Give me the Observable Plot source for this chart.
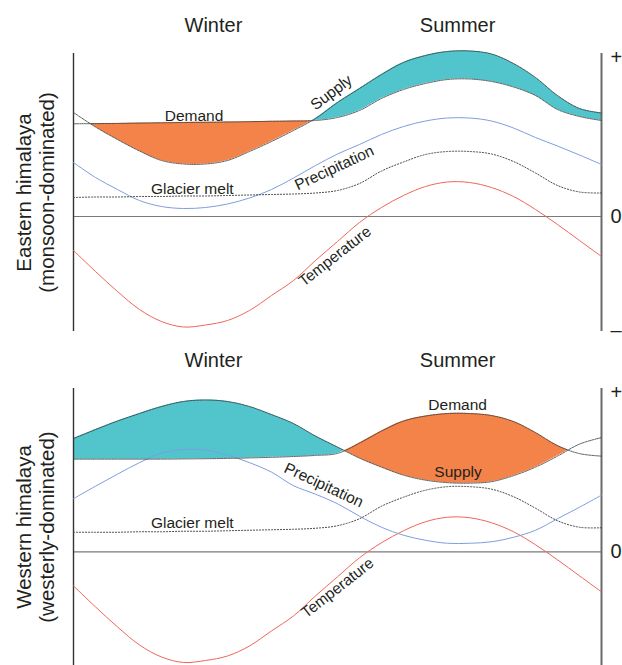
<!DOCTYPE html>
<html><head><meta charset="utf-8">
<script src="https://cdn.jsdelivr.net/npm/d3@7"></script>
<script src="https://cdn.jsdelivr.net/npm/@observablehq/plot@0.6"></script>
<style>
body{margin:0;background:#fff;}
#chart svg{display:block;}
</style>
</head><body><div id="chart"></div>
<script>
// x: months through the year (0..12), y: relative anomaly units (0 = zero line)
const months = [0,0.5,1,1.5,2,2.5,3,3.5,4,4.5,5,5.5,6,6.5,7,7.5,8,8.5,9,9.5,10,10.5,11,11.5,12];

// Eastern himalaya (monsoon-dominated)
const eastTemperature = [-3.4,-5.5,-7.5,-9.3,-10.5,-11.05,-10.85,-10.4,-9.4,-7.9,-6.4,-4.4,-2.5,-0.6,0.9,2.1,3.0,3.45,3.4,2.9,2.0,0.7,-0.8,-2.4,-4.0];
const eastPrecipitation = [5.4,3.9,2.7,1.6,1.0,0.8,0.9,1.25,1.85,2.7,3.85,5.1,6.25,7.2,8.2,9.0,9.55,9.85,9.85,9.55,8.85,7.9,7.05,6.15,5.2];
const eastGlacierMelt = [1.9,1.95,1.95,2.0,2.0,2.05,2.05,2.1,2.15,2.2,2.25,2.35,2.6,3.3,4.55,5.45,6.2,6.5,6.5,6.25,5.5,4.35,3.1,2.45,2.35];
const eastSupply = [10.4,8.95,7.7,6.55,5.6,5.25,5.25,5.6,6.5,7.5,8.6,9.8,11.4,12.8,14.2,15.4,16.1,16.5,16.55,16.25,15.3,13.9,12.1,10.8,10.35];
const eastDemand = [9.27,9.29,9.31,9.34,9.37,9.4,9.42,9.45,9.48,9.52,9.55,9.6,9.9,10.6,11.8,12.7,13.3,13.7,13.75,13.5,12.95,12.1,10.7,10.0,9.6];

// Western himalaya (westerly-dominated)
const westTemperature = [-3.4,-5.5,-7.5,-9.3,-10.5,-11.05,-10.85,-10.4,-9.4,-7.9,-6.4,-4.4,-2.5,-0.6,0.9,2.1,3.0,3.45,3.4,2.9,2.0,0.7,-0.8,-2.4,-4.0];
const westPrecipitation = [5.3,6.55,7.75,8.9,9.85,10.2,10.15,9.65,8.9,7.95,6.6,5.75,4.8,3.55,2.45,1.65,1.15,0.85,0.85,1.0,1.45,2.15,3.3,4.45,5.65];
const westGlacierMelt = [1.95,1.95,1.95,2.0,2.0,2.05,2.05,2.1,2.15,2.2,2.25,2.35,2.6,3.3,4.55,5.45,6.15,6.5,6.5,6.25,5.5,4.35,3.1,2.45,2.4];
const westSupply = [11.3,12.2,13.05,13.8,14.5,15.0,15.15,15.0,14.5,13.7,12.8,11.55,10.45,9.35,8.45,7.65,7.15,6.9,6.85,7.0,7.6,8.45,9.55,10.75,11.4];
const westDemand = [9.25,9.25,9.25,9.25,9.25,9.27,9.29,9.32,9.37,9.43,9.51,9.62,9.82,10.85,12.05,13.05,13.55,13.8,13.8,13.6,13.0,11.9,10.6,9.8,9.55];

// Text
const seasonLabels = ["Winter", "Summer"];
const seasonMonths = [3.18, 8.73];
const eastTitle = "Eastern himalaya\n(monsoon-dominated)";
const westTitle = "Western himalaya\n(westerly-dominated)";
const eastTickLabels = ["+", "0", "\u2013"];
const eastTickValues = [15.9, 0, -11.4];
const westTickLabels = ["+", "0"];
const westTickValues = [15.9, 0];

const eastLabelText = ["Demand", "Supply", "Precipitation", "Glacier melt", "Temperature"];
const eastLabelX = [2.74, 5.86, 5.93, 2.70, 5.94];
const eastLabelY = [10.0, 12.4, 4.85, 2.7, -3.98];
const eastLabelAngle = [0, -37, -25, 0, -38];

const westLabelText = ["Demand", "Supply", "Precipitation", "Glacier melt", "Temperature"];
const westLabelX = [8.73, 8.74, 5.69, 2.70, 6.0];
const westLabelY = [14.6, 8.0, 6.65, 2.9, -3.6];
const westLabelAngle = [0, 0, 25, 0, -38];

const FONT = "'Liberation Sans', Arial, Helvetica, sans-serif";
const INK = "#231f20";
const ORANGE = "#f38348";
const CYAN = "#52c4cc";
const curve = "catmull-rom";

function fills(rows, cyanRows) {
  if (typeof Plot.differenceY === "function") {
    return [
      // y2 (supply) below y1 (demand): shortfall, orange
      Plot.differenceY(rows, {x: "m", y1: "d", y2: "s", positiveFill: "none", negativeFill: ORANGE, fillOpacity: 1, stroke: "none", curve}),
      // y2 (supply) above y1 (demand): surplus, cyan
      Plot.differenceY(cyanRows, {x: "m", y1: "d", y2: "s", positiveFill: CYAN, negativeFill: "none", fillOpacity: 1, stroke: "none", curve})
    ];
  }
  return [
    Plot.areaY(rows, {x: "m", y1: "s", y2: d => Math.max(d.s, d.d), fill: ORANGE, curve}),
    Plot.areaY(cyanRows, {x: "m", y1: "d", y2: d => Math.max(d.s, d.d), fill: CYAN, curve})
  ];
}

function panel(cfg) {
  const rows = months.map((m, i) => ({
    m, t: cfg.temp[i], p: cfg.precip[i], g: cfg.melt[i], s: cfg.supply[i], d: cfg.demand[i]
  }));
  const labels = cfg.labelText.map((text, i) => ({text, x: cfg.labelX[i], y: cfg.labelY[i], r: cfg.labelAngle[i]}));
  const ticks = cfg.tickLabels.map((t, i) => ({t, v: cfg.tickValues[i]}));
  const seasons = seasonLabels.map((s, i) => ({s, x: seasonMonths[i]}));
  const sdLine = {x: "m", stroke: "#3a3a3a", strokeWidth: 0.8, strokeDasharray: "2.5,1", curve};
  return Plot.plot({
    width: 622,
    height: cfg.height,
    marginLeft: 73,
    marginRight: 21,
    marginTop: 53,
    marginBottom: cfg.marginBottom,
    x: {domain: [0, 12], axis: null},
    y: {domain: cfg.yDomain, axis: null},
    style: {fontFamily: FONT, background: "#fff", color: INK, overflow: "visible"},
    marks: [
      ...fills(rows, rows.filter(cfg.cyanRange)),
      Plot.ruleY([0], {stroke: "#7a7a7a", strokeWidth: 1.2}),
      Plot.ruleX([0], {stroke: "#333", strokeWidth: 1.4}),
      Plot.ruleX([12], {stroke: "#6a6a6a", strokeWidth: 2}),
      Plot.line(rows, {x: "m", y: "t", stroke: "#f0665a", strokeWidth: 1, curve}),
      Plot.line(rows, {x: "m", y: "p", stroke: "#7e9ee0", strokeWidth: 1, curve}),
      Plot.line(rows, {x: "m", y: "g", stroke: "#4a4a4a", strokeWidth: 1, strokeDasharray: "1.2,1.8", curve}),
      Plot.line(rows, {...sdLine, y: "s"}),
      Plot.line(rows, {...sdLine, y: "d"}),
      Plot.text(labels, {x: "x", y: "y", text: "text", rotate: "r", fontSize: 15.5, fill: INK, textAnchor: "middle", lineAnchor: "middle"}),
      Plot.text(seasons, {x: "x", text: "s", frameAnchor: "top", dy: -28, fontSize: 20, fill: INK, lineAnchor: "middle"}),
      Plot.text(ticks, {y: "v", text: "t", frameAnchor: "right", dx: 9, textAnchor: "start", fontSize: 20, fill: INK, lineAnchor: "middle"}),
      Plot.text([cfg.title], {text: d => d, frameAnchor: "left", dx: -38.7, rotate: -90, fontSize: 20.5, lineHeight: 1.16, fill: INK, textAnchor: "middle", lineAnchor: "middle"})
    ]
  });
}

const chart = document.getElementById("chart");
chart.append(panel({
  height: 335, marginBottom: 4, yDomain: [-11.5, 16.3],
  temp: eastTemperature, precip: eastPrecipitation, melt: eastGlacierMelt, supply: eastSupply, demand: eastDemand,
  cyanRange: d => d.m >= 0.5,
  labelText: eastLabelText, labelX: eastLabelX, labelY: eastLabelY, labelAngle: eastLabelAngle,
  tickLabels: eastTickLabels, tickValues: eastTickValues, title: eastTitle
}));
chart.append(panel({
  height: 330, marginBottom: 0, yDomain: [-11.35, 16.3],
  temp: westTemperature, precip: westPrecipitation, melt: westGlacierMelt, supply: westSupply, demand: westDemand,
  cyanRange: d => d.m <= 10,
  labelText: westLabelText, labelX: westLabelX, labelY: westLabelY, labelAngle: westLabelAngle,
  tickLabels: westTickLabels, tickValues: westTickValues, title: westTitle
}));
</script>
</body></html>
